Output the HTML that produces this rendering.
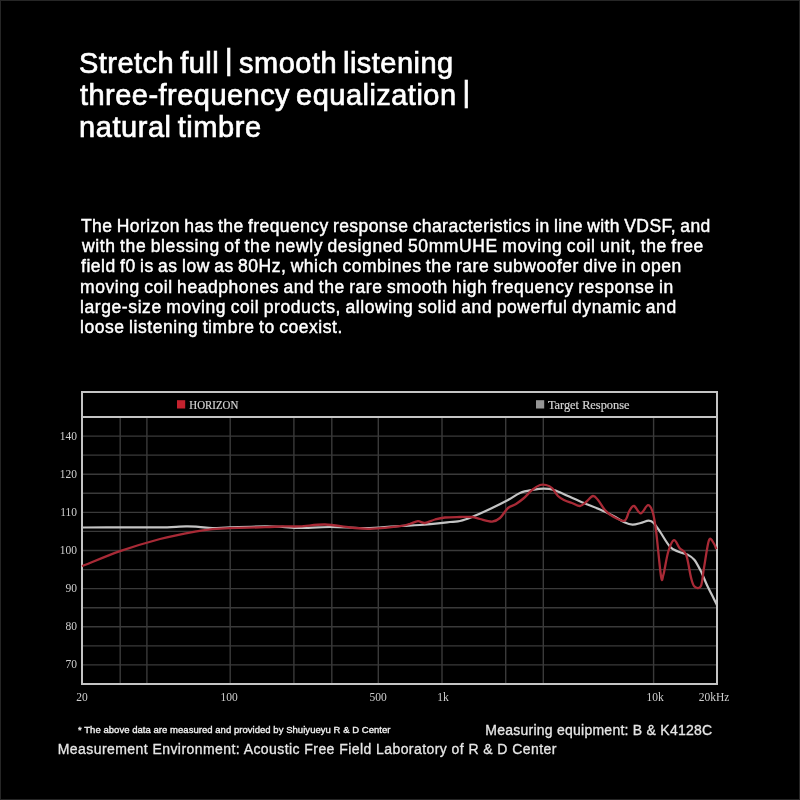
<!DOCTYPE html>
<html><head><meta charset="utf-8"><style>
html,body{margin:0;padding:0;background:#000;}
body{width:800px;height:800px;position:relative;overflow:hidden;}
</style></head><body>
<svg width="800" height="800" viewBox="0 0 800 800" style="position:absolute;left:0;top:0">
<rect x="0.5" y="0.5" width="799" height="799" fill="none" stroke="#262626" stroke-width="1"/>
<g font-family="Liberation Sans, sans-serif">
<text x="79.00" y="72.70" font-size="29" letter-spacing="0.464" word-spacing="-2.5" fill="#ffffff" stroke="#ffffff" stroke-width="0.7">Stretch full <tspan dy="-2.5">|</tspan><tspan dy="2.5"> smooth listening</tspan></text>
<text x="80.00" y="104.50" font-size="29" letter-spacing="0.465" word-spacing="-2.5" fill="#ffffff" stroke="#ffffff" stroke-width="0.7">three-frequency equalization <tspan dy="-2.5">|</tspan></text>
<text x="79.00" y="136.50" font-size="29" letter-spacing="0.564" word-spacing="-2.5" fill="#ffffff" stroke="#ffffff" stroke-width="0.7">natural timbre</text>
<text x="81.00" y="232.00" font-size="17.5" letter-spacing="0.426" word-spacing="-1" fill="#ffffff" stroke="#ffffff" stroke-width="0.45">The Horizon has the frequency response characteristics in line with VDSF, and</text>
<text x="82.00" y="252.20" font-size="17.5" letter-spacing="0.614" word-spacing="-1" fill="#ffffff" stroke="#ffffff" stroke-width="0.45">with the blessing of the newly designed 50mmUHE moving coil unit, the free</text>
<text x="81.00" y="272.40" font-size="17.5" letter-spacing="0.514" word-spacing="-1" fill="#ffffff" stroke="#ffffff" stroke-width="0.45">field f0 is as low as 80Hz, which combines the rare subwoofer dive in open</text>
<text x="80.00" y="292.60" font-size="17.5" letter-spacing="0.559" word-spacing="-1" fill="#ffffff" stroke="#ffffff" stroke-width="0.45">moving coil headphones and the rare smooth high frequency response in</text>
<text x="80.00" y="312.80" font-size="17.5" letter-spacing="0.591" word-spacing="-1" fill="#ffffff" stroke="#ffffff" stroke-width="0.45">large-size moving coil products, allowing solid and powerful dynamic and</text>
<text x="80.00" y="333.00" font-size="17.5" letter-spacing="0.555" word-spacing="-1" fill="#ffffff" stroke="#ffffff" stroke-width="0.45">loose listening timbre to coexist.</text>
<text x="78.00" y="733.00" font-size="9.5" letter-spacing="0.040" word-spacing="0" fill="#f0f0f0" stroke="#f0f0f0" stroke-width="0.35">* The above data are measured and provided by Shuiyueyu R &amp; D Center</text>
<text x="485.25" y="735.00" font-size="14" letter-spacing="0.247" word-spacing="0" fill="#e6e6e6" stroke="#e6e6e6" stroke-width="0.3">Measuring equipment: B &amp; K4128C</text>
<text x="57.75" y="753.50" font-size="14" letter-spacing="0.432" word-spacing="0" fill="#e6e6e6" stroke="#e6e6e6" stroke-width="0.3">Measurement Environment: Acoustic Free Field Laboratory of R &amp; D Center</text>
</g>
<g stroke="#3a3a3a" stroke-width="1.4"><line x1="82" y1="436.1" x2="717" y2="436.1"/><line x1="82" y1="455.1" x2="717" y2="455.1"/><line x1="82" y1="474.2" x2="717" y2="474.2"/><line x1="82" y1="493.3" x2="717" y2="493.3"/><line x1="82" y1="512.4" x2="717" y2="512.4"/><line x1="82" y1="531.4" x2="717" y2="531.4"/><line x1="82" y1="550.5" x2="717" y2="550.5"/><line x1="82" y1="569.6" x2="717" y2="569.6"/><line x1="82" y1="588.6" x2="717" y2="588.6"/><line x1="82" y1="607.7" x2="717" y2="607.7"/><line x1="82" y1="626.8" x2="717" y2="626.8"/><line x1="82" y1="645.9" x2="717" y2="645.9"/><line x1="82" y1="664.9" x2="717" y2="664.9"/><line x1="120.2" y1="417" x2="120.2" y2="684"/><line x1="146.9" y1="417" x2="146.9" y2="684"/><line x1="230.2" y1="417" x2="230.2" y2="684"/><line x1="293.9" y1="417" x2="293.9" y2="684"/><line x1="331.8" y1="417" x2="331.8" y2="684"/><line x1="378.3" y1="417" x2="378.3" y2="684"/><line x1="442.0" y1="417" x2="442.0" y2="684"/><line x1="505.7" y1="417" x2="505.7" y2="684"/><line x1="543.3" y1="417" x2="543.3" y2="684"/><line x1="653.6" y1="417" x2="653.6" y2="684"/></g>
<rect x="82" y="392" width="635" height="292" fill="none" stroke="#c4c4c4" stroke-width="2"/>
<line x1="82" y1="417" x2="717" y2="417" stroke="#c4c4c4" stroke-width="2"/>
<path d="M82.0 527.5C88.3 527.5 107.0 527.3 120.0 527.3C133.0 527.3 149.0 527.5 160.0 527.4C171.0 527.2 179.6 526.5 186.0 526.4C192.4 526.3 194.1 526.6 198.5 526.9C202.9 527.2 207.2 528.0 212.5 528.1C217.8 528.2 221.2 527.7 230.0 527.4C238.8 527.1 256.2 526.5 265.0 526.4C273.8 526.3 276.7 526.6 282.5 526.9C288.3 527.2 292.1 528.0 300.0 528.0C307.9 528.0 318.3 527.0 330.0 527.0C341.7 527.0 358.3 528.2 370.0 528.0C381.7 527.8 391.7 526.5 400.0 526.0C408.3 525.5 411.7 525.7 420.0 525.0C428.3 524.3 443.3 522.7 450.0 522.0C456.7 521.3 456.3 521.8 460.0 521.0C463.7 520.2 467.0 519.0 472.0 517.0C477.0 515.0 484.0 511.8 490.0 509.0C496.0 506.2 503.0 502.7 508.0 500.0C513.0 497.3 516.0 494.7 520.0 493.0C524.0 491.3 528.0 490.7 532.0 490.0C536.0 489.3 540.3 488.6 544.0 488.6C547.7 488.6 550.0 488.8 554.0 490.0C558.0 491.2 563.0 493.8 568.0 496.0C573.0 498.2 578.7 500.8 584.0 503.0C589.3 505.2 595.2 507.4 600.0 509.5C604.8 511.6 608.9 513.7 613.0 515.8C617.1 517.9 621.1 520.8 624.4 522.3C627.6 523.8 629.8 524.6 632.5 524.7C635.2 524.8 638.0 523.7 640.7 523.0C643.4 522.3 646.6 520.7 648.8 520.7C651.0 520.7 651.8 521.1 653.7 523.0C655.6 524.9 657.5 528.0 660.2 532.0C662.9 536.0 667.0 543.5 670.0 546.7C673.0 550.0 675.0 550.1 678.0 551.5C681.0 552.9 685.1 553.4 687.8 554.8C690.5 556.2 692.1 557.0 694.3 559.7C696.5 562.4 698.6 566.7 700.8 571.0C703.0 575.3 705.1 581.1 707.3 585.7C709.5 590.3 712.2 595.5 713.8 598.7C715.4 602.0 716.5 604.1 717.0 605.2" fill="none" stroke="#c4c4c4" stroke-width="2.2" stroke-linejoin="round"/>
<path d="M82.0 566.2C88.3 563.8 107.0 555.8 120.0 551.2C133.0 546.7 147.5 542.3 160.0 539.0C172.5 535.7 186.2 533.2 195.0 531.6C203.8 530.0 206.7 529.8 212.5 529.2C218.3 528.6 221.2 528.4 230.0 528.1C238.8 527.8 256.2 527.5 265.0 527.2C273.8 526.9 276.7 526.5 282.5 526.4C288.3 526.3 292.9 526.7 300.0 526.4C307.1 526.1 316.7 524.3 325.0 524.5C333.3 524.7 342.5 526.8 350.0 527.5C357.5 528.2 361.7 529.0 370.0 528.8C378.3 528.5 393.3 527.1 400.0 526.2C406.7 525.4 407.0 524.6 410.0 523.8C413.0 522.9 415.5 521.4 418.0 521.2C420.5 521.1 422.2 523.3 425.0 523.0C427.8 522.7 431.7 520.4 435.0 519.5C438.3 518.6 440.8 517.9 445.0 517.5C449.2 517.1 455.5 517.1 460.0 517.0C464.5 516.9 468.7 516.7 472.0 517.0C475.3 517.3 476.7 518.2 480.0 519.0C483.3 519.8 488.7 521.8 492.0 521.6C495.3 521.4 497.3 520.3 500.0 518.0C502.7 515.7 505.3 510.3 508.0 508.0C510.7 505.7 513.3 505.7 516.0 504.0C518.7 502.3 521.3 500.3 524.0 498.0C526.7 495.7 529.3 492.2 532.0 490.0C534.7 487.8 537.7 485.8 540.0 485.0C542.3 484.2 544.0 484.5 546.0 485.0C548.0 485.5 550.0 486.2 552.0 488.0C554.0 489.8 556.0 494.0 558.0 496.0C560.0 498.0 561.7 498.8 564.0 500.0C566.3 501.2 569.3 502.0 572.0 503.0C574.7 504.0 577.7 506.2 580.0 506.0C582.3 505.8 583.8 503.7 586.0 502.0C588.2 500.3 591.0 496.3 593.0 496.0C595.0 495.7 596.0 497.7 598.0 500.0C600.0 502.3 602.4 507.2 604.9 510.0C607.4 512.8 609.8 514.8 613.0 516.6C616.2 518.4 621.7 521.6 624.4 520.7C627.1 519.8 627.7 513.5 629.3 511.0C630.9 508.6 632.1 505.6 634.0 506.0C635.9 506.4 638.4 513.4 640.7 513.3C643.0 513.2 646.0 505.3 648.0 505.2C650.0 505.1 651.5 508.3 652.8 512.5C654.1 516.7 654.6 519.8 656.0 530.4C657.4 541.0 659.8 568.8 661.0 576.2C662.2 583.6 662.2 578.9 663.4 574.8C664.6 570.7 666.5 557.3 668.3 551.5C670.1 545.7 672.1 540.7 674.0 540.2C675.9 539.7 677.7 545.9 679.7 548.3C681.7 550.7 684.3 549.9 686.2 554.8C688.1 559.7 689.6 572.4 691.0 577.6C692.4 582.9 692.7 584.8 694.3 586.3C695.9 587.8 699.2 589.4 700.8 586.3C702.4 583.2 702.6 575.5 704.0 567.8C705.4 560.1 707.4 544.3 709.0 540.2C710.6 536.1 712.6 541.9 713.8 543.4C715.0 544.9 715.9 548.1 716.3 549.1" fill="none" stroke="#a82a36" stroke-width="2.3" stroke-linejoin="round"/>
<rect x="177" y="400.2" width="8.2" height="8.3" fill="#c4222e"/>
<text x="189.3" y="408.6" font-family="Liberation Serif, serif" font-size="12" textLength="49" lengthAdjust="spacingAndGlyphs" fill="#d4d4d4" stroke="#d4d4d4" stroke-width="0.2">HORIZON</text>
<rect x="536" y="400.2" width="8.2" height="8.3" fill="#959595"/>
<text x="547.9" y="408.7" font-family="Liberation Serif, serif" font-size="12" textLength="81.6" lengthAdjust="spacingAndGlyphs" fill="#d4d4d4" stroke="#d4d4d4" stroke-width="0.2">Target Response</text>
<g font-family="Liberation Serif, serif" font-size="11.5" fill="#cfcfcf" text-anchor="end">
<text x="77" y="440.0">140</text>
<text x="77" y="478.0">120</text>
<text x="77" y="516.0">110</text>
<text x="77" y="554.0">100</text>
<text x="77" y="592.0">90</text>
<text x="77" y="630.0">80</text>
<text x="77" y="668.0">70</text>
</g>
<g font-family="Liberation Serif, serif" font-size="11.5" fill="#cfcfcf" text-anchor="middle">
<text x="82.0" y="701">20</text>
<text x="229.0" y="701">100</text>
<text x="378.0" y="701">500</text>
<text x="443.0" y="701">1k</text>
<text x="655.0" y="701">10k</text>
<text x="714" y="701">20kHz</text>
</g>
</svg>
</body></html>
